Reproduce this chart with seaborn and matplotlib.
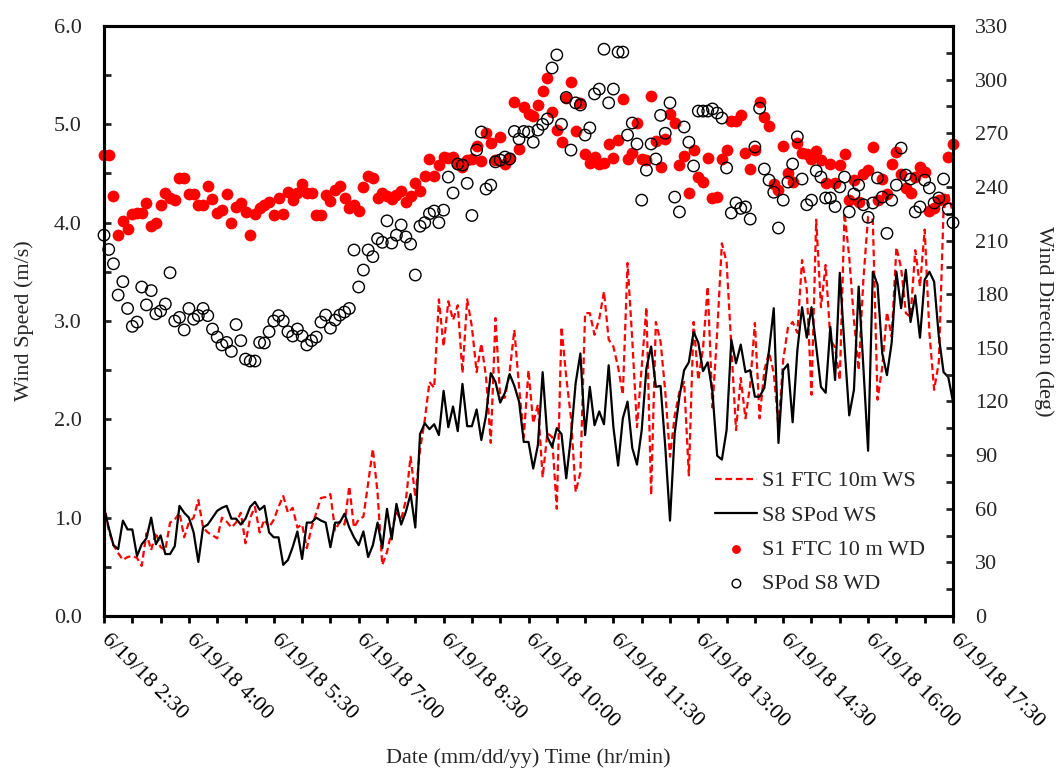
import numpy as np
import pandas as pd
import matplotlib
matplotlib.use('Agg')
import matplotlib.pyplot as plt
import matplotlib.dates as mdates
from matplotlib.ticker import MultipleLocator
import seaborn as sns

sns.set_theme(style='white')
plt.rcParams['font.family'] = ['Liberation Serif', 'DejaVu Serif']

# 5-minute samples, 6/19/18 2:30 -> 17:30
t_start = '2018-06-19 02:30'
t_end = '2018-06-19 17:30'
tick_labels = ['6/19/18 2:30', '6/19/18 4:00', '6/19/18 5:30', '6/19/18 7:00',
               '6/19/18 8:30', '6/19/18 10:00', '6/19/18 11:30', '6/19/18 13:00',
               '6/19/18 14:30', '6/19/18 16:00', '6/19/18 17:30']

# S1 FTC 10m wind speed (m/s)
s1_ws = [1.15, 0.87, 0.72, 0.64, 0.57, 0.6, 0.61, 0.59, 0.51, 0.84, 0.67, 0.85, 0.7, 0.67, 0.95,
         0.98, 1.05, 0.8, 0.95, 1.0, 1.18, 0.9, 0.85, 0.82, 0.79, 1.0, 0.96, 0.9, 0.95, 1.05,
         0.74, 1.0, 1.11, 0.85, 0.98, 0.9, 0.98, 1.11, 1.22, 1.05, 1.1, 0.9, 0.93, 0.69, 0.9,
         1.05, 1.2, 1.21, 1.24, 0.87, 0.96,
         0.93, 1.32, 0.9, 0.98, 1.01, 1.35, 1.7, 1.25, 0.52, 0.65, 0.87, 1.05, 0.98, 1.18, 1.62,
         1.21, 1.69, 1.99, 2.38, 2.32, 3.22, 2.74, 3.2, 3.01, 3.16, 2.47, 3.22, 2.94, 2.48, 2.77,
         2.43, 1.76, 3.03, 2.22, 2.22, 2.48, 2.91, 2.33, 1.82, 2.5, 1.96, 2.15, 1.41, 1.86, 1.82,
         1.09, 2.94, 2.43, 2.02,
         1.26, 1.46, 3.08, 3.08, 2.86, 3.02, 3.3, 2.81, 2.74, 2.53, 2.25, 3.59, 2.81, 1.92, 2.53,
         3.14, 1.23, 2.99, 2.79, 2.28, 1.62, 2.04, 2.28, 2.38, 1.43, 2.99, 2.4, 2.72, 3.35, 2.12,
         2.88, 3.79, 3.6, 2.74, 1.89, 2.42, 2.01, 2.35, 2.98, 2.01, 2.5, 2.68, 2.47, 1.92, 2.6,
         2.93, 2.99, 2.88,
         3.62, 3.32, 2.25, 4.03, 3.14, 3.57, 2.81, 2.73, 2.4, 4.1, 3.65, 3.01, 2.5, 3.42, 4.06,
         4.03, 2.2, 2.53, 3.09, 2.84, 3.75, 3.54, 3.08, 3.04, 3.72, 3.35, 3.93, 2.88, 2.3, 2.58,
         4.13, 4.28, 4.1]

# S8 SPod wind speed (m/s)
s8_ws = [1.1, 0.9, 0.72, 0.68, 0.97, 0.88, 0.88, 0.61, 0.73, 0.79, 1.0, 0.73, 0.82, 0.63, 0.63,
         0.71, 1.12, 1.05, 1.0, 0.85, 0.55, 0.9, 0.93, 1.0, 1.07, 1.1, 1.12, 0.99, 0.99, 0.93,
         0.99, 1.11, 1.16, 1.08, 1.12, 0.85, 0.8, 0.8, 0.52, 0.57, 0.7, 0.86, 0.58, 0.95, 0.95,
         1.0, 0.97, 0.95, 0.7, 0.95, 0.95,
         1.04, 0.9, 0.8, 0.72, 0.86, 0.6, 0.72, 0.95, 0.69, 1.09, 0.78, 1.14, 0.93, 1.06, 1.24,
         0.9, 1.85, 1.96, 1.9, 1.95, 1.84, 2.29, 1.92, 2.13, 1.88, 2.36, 1.93, 1.93, 2.1, 1.79,
         2.04, 2.47, 2.38, 2.17, 2.27, 2.46, 2.34, 2.18, 1.77, 1.77, 1.5, 1.74, 2.48, 1.82, 1.72,
         1.91, 1.85, 1.4, 1.82,
         2.37, 2.67, 1.84, 2.33, 1.94, 2.08, 1.95, 2.55, 1.92, 1.53, 2.01, 2.18, 1.71, 1.54, 1.89,
         2.52, 2.74, 2.33, 2.34, 1.72, 0.97, 1.86, 2.23, 2.5, 2.58, 2.89, 2.78, 2.49, 2.58, 2.28,
         1.63, 1.59, 1.89, 2.81, 2.57, 2.76, 2.48, 2.5, 2.23, 2.23, 2.32, 2.7, 3.13, 1.76, 2.5,
         2.56, 1.97, 2.7,
         3.14, 2.83, 3.14, 2.74, 2.33, 2.27, 2.94, 2.4, 3.49, 2.74, 2.04, 2.3, 3.35, 2.53, 1.68,
         3.5, 3.37, 2.67, 2.45, 2.78, 3.5, 3.13, 3.52, 2.99, 3.26, 2.83, 3.42, 3.5, 3.4, 2.84,
         2.48, 2.43, 2.18]

# S1 FTC 10 m wind direction (deg)
s1_wd = [258, 258, 235, 213, 221, 216.5, 225, 225.5, 225.5, 231, 218, 220, 230, 236.5, 234,
         232.6, 245, 245, 236, 236, 230, 230, 240.5, 233, 225.5, 227, 236, 220, 229, 231,
         226, 213, 225, 228, 230, 231.5, 224, 234, 225, 237, 232.6, 236.5, 241.6, 236.5, 236.5,
         224, 224, 235.5, 232, 238, 240.5,
         234, 228, 230, 226.5, 240, 246, 245, 234, 236.5, 235, 233, 235.5, 237.7, 231.5, 235,
         242, 237.7, 246, 255.6, 246, 252, 256.7, 256, 256.7, 253, 251, 255, 255.6, 263, 254.5,
         270, 264.5, 255, 268, 253, 256, 287.5, 261, 284.7, 281, 279.6, 286, 293.6, 301, 282,
         272, 265, 289.7, 298.7,
         271, 287, 258.4, 253.4, 256.7, 252.8, 253.4, 264, 256, 266, 289, 255.6, 259, 275.7, 255.6,
         255, 290.8, 265.7, 251, 267, 280.8, 275.7, 252, 257, 236.6, 260.6, 245.5, 242.7, 256, 233.8,
         234.3, 255.6, 260.6, 277, 277, 280, 259, 250, 260.6, 287.5, 279, 274, 241.6, 238.3, 263,
         247.8, 242.7, 264.5,
         259, 258.4, 255.6, 260, 255, 242, 252.8, 242, 252, 258.4, 232.6, 243.8, 231.5, 247, 249.4,
         262.3, 232.6, 244.4, 236, 252.8, 259.5, 247, 239.4, 236.6, 245.5, 251, 248.3, 226.5, 228, 232.6,
         233, 256.7, 264]

# SPod S8 wind direction (deg)
s8_wd = [213, 205, 197, 179.5, 187, 172, 162, 164.4, 184, 174, 182, 169, 170.6, 174.5, 192,
         165, 167, 160, 172, 166, 168, 172, 168, 160.5, 156, 151.6, 153, 148, 163, 154,
         143.7, 142.6, 142.6, 153, 152.7, 159, 165, 168, 165, 159, 156.6, 160.5, 156.6, 151.6, 154,
         156, 164.4, 168.3, 161, 165.5, 168.3,
         170, 172, 204.7, 184, 193.5, 204.7, 201, 211, 209, 221, 208.6, 213, 218.7, 212, 208,
         190.7, 218, 220, 225, 226.5, 220, 227, 245.5, 236.6, 252.8, 252.2, 242, 224, 260.6, 270.7,
         238.8, 241, 254, 255, 256.7, 255.6, 271, 266.8, 271, 270.7, 265, 271.8, 275, 278, 306.5,
         313.8, 275, 290, 260.6,
         287, 285.8, 269, 273, 292, 294.7, 317, 287, 294.7, 315.4, 315.4, 269, 275.7, 264, 232.6,
         249.4, 264, 255.6, 280, 270, 287, 234.3, 226, 273.5, 265, 251.7, 282.4, 282.4, 282.4, 283.6,
         281.3, 278.5, 250.6, 225.4, 231, 228, 228.8, 222, 262.3, 284, 250, 243.8, 237, 217, 232.6,
         242.7, 252.8, 268,
         244.4, 230, 232.6, 249, 245.5, 233.8, 233.8, 229, 240, 245.5, 226, 236, 241, 230, 223,
         231, 245, 234.3, 214, 232.6, 241, 261.7, 246.6, 244.4, 226, 228.8, 243.8, 239.4, 231, 233.8,
         244.4, 227.6, 220]

times = pd.date_range(t_start, t_end, freq='5min')
df = pd.DataFrame({'time': times, 's1_ws': s1_ws, 's8_ws': s8_ws,
                   's1_wd': s1_wd, 's8_wd': s8_wd})

fig = plt.figure(figsize=(10.57, 7.73), dpi=100)
ax = fig.add_axes([0.0984, 0.2031, 0.8032, 0.7633])
ax2 = ax.twinx()

sns.lineplot(data=df, x='time', y='s1_ws', ax=ax, color='red', linewidth=1.6,
             label='S1 FTC 10m WS')
sns.lineplot(data=df, x='time', y='s8_ws', ax=ax, color='black', linewidth=1.6,
             label='S8 SPod WS')
ax.lines[0].set_dashes((3, 1.7))

sns.scatterplot(data=df, x='time', y='s1_wd', ax=ax2, color='red', s=72, linewidth=0,
                label='S1 FTC 10 m WD', clip_on=False)
sns.scatterplot(data=df, x='time', y='s8_wd', ax=ax2, s=68, label='SPod S8 WD', clip_on=False)
ax2.collections[1].set_facecolor('none')
ax2.collections[1].set_edgecolor('black')
ax2.collections[1].set_linewidth(1.0)

for a in (ax, ax2):
    if a.get_legend() is not None:
        a.get_legend().remove()

ax.set_xlim(times[0], times[-1])
ax.set_ylim(0, 6)
ax2.set_ylim(0, 330)

major = pd.date_range(t_start, t_end, freq='90min')
minor = pd.date_range(t_start, t_end, freq='30min')
ax.set_xticks(mdates.date2num(major))
ax.set_xticks(mdates.date2num(minor), minor=True)
ax.set_xticklabels(tick_labels)
for lbl in ax.get_xticklabels():
    lbl.set_rotation(-45)
    lbl.set_ha('left')
    lbl.set_va('center')
    lbl.set_rotation_mode('anchor')

ax.yaxis.set_major_locator(MultipleLocator(1.0))
ax.yaxis.set_minor_locator(MultipleLocator(0.5))
ax.set_yticklabels([f'{v:.1f}' for v in ax.get_yticks()])
ax2.yaxis.set_major_locator(MultipleLocator(30))
ax2.yaxis.set_minor_locator(MultipleLocator(15))

ax.tick_params(axis='x', which='both', direction='out', length=5, width=2,
               labelsize=16, pad=10, bottom=True, colors='black')
ax.tick_params(axis='y', which='both', direction='in', length=5, width=2,
               labelsize=16, pad=16, left=True, right=False)
ax2.tick_params(axis='y', which='both', direction='in', length=5, width=2,
                labelsize=16, pad=16, right=True)

for a in (ax, ax2):
    for sp in a.spines.values():
        sp.set_linewidth(2.2)
        sp.set_color('black')

ax.set_xlabel('Date (mm/dd/yy) Time (hr/min)', fontsize=16, labelpad=12)
ax.set_ylabel('Wind Speed (m/s)', fontsize=16, labelpad=14)
ax2.set_ylabel('Wind Direction (deg)', fontsize=16, rotation=270, va='bottom', labelpad=18)

h1, l1 = ax.get_legend_handles_labels()
h2, l2 = ax2.get_legend_handles_labels()
ax2.legend(h1 + h2, l1 + l2, loc='upper left', bbox_to_anchor=(0.72, 0.246),
           frameon=False, fontsize=16, borderpad=0, borderaxespad=0,
           handlelength=1.9, handletextpad=0.2, labelspacing=0.62, markerscale=0.75)

fig.savefig('out.png', dpi=100)
